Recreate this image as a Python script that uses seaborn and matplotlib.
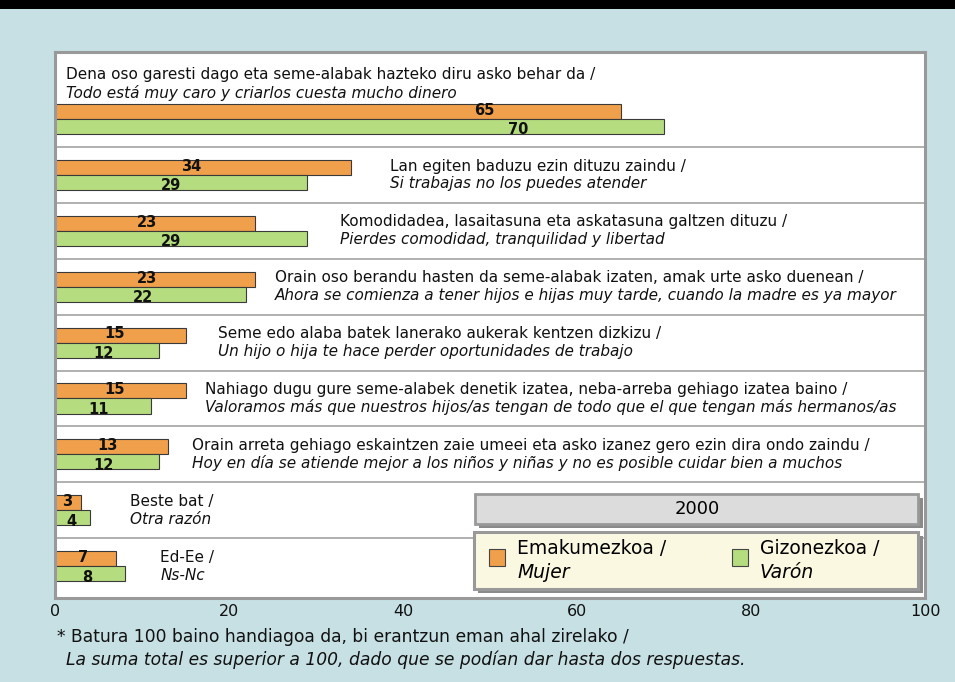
import pandas as pd
import seaborn as sns
import matplotlib.pyplot as plt
from matplotlib.patches import Rectangle

# data (percent, 2000)
reasons_eu = [
    'Dena oso garesti dago eta seme-alabak hazteko diru asko behar da /',
    'Lan egiten baduzu ezin dituzu zaindu /',
    'Komodidadea, lasaitasuna eta askatasuna galtzen dituzu /',
    'Orain oso berandu hasten da seme-alabak izaten, amak urte asko duenean /',
    'Seme edo alaba batek lanerako aukerak kentzen dizkizu /',
    'Nahiago dugu gure seme-alabek denetik izatea, neba-arreba gehiago izatea baino /',
    'Orain arreta gehiago eskaintzen zaie umeei eta asko izanez gero ezin dira ondo zaindu /',
    'Beste bat /',
    'Ed-Ee /',
]
reasons_es = [
    'Todo está muy caro y criarlos cuesta mucho dinero',
    'Si trabajas no los puedes atender',
    'Pierdes comodidad, tranquilidad y libertad',
    'Ahora se comienza a tener hijos e hijas muy tarde, cuando la madre es ya mayor',
    'Un hijo o hija te hace perder oportunidades de trabajo',
    'Valoramos más que nuestros hijos/as tengan de todo que el que tengan más hermanos/as',
    'Hoy en día se atiende mejor a los niños y niñas y no es posible cuidar bien a muchos',
    'Otra razón',
    'Ns-Nc',
]
women = [65, 34, 23, 23, 15, 15, 13, 3, 7]
men = [70, 29, 29, 22, 12, 11, 12, 4, 8]
sexes = ['Emakumezkoa / Mujer', 'Gizonezkoa / Varón']

# layout: where the reason text starts (x in data units)
label_x = [1.3, 38.5, 32.8, 25.3, 18.7, 17.2, 15.7, 8.6, 12.1]

orange = '#f0a04b'
green = '#b5dc7e'
bg = '#c6e0e4'

df = pd.DataFrame({
    'reason': reasons_eu * 2,
    'sex': [sexes[0]] * len(women) + [sexes[1]] * len(men),
    'value': women + men,
})

W, H = 955, 682
fig = plt.figure(figsize=(W / 100, H / 100), dpi=100, facecolor=bg)
ax = fig.add_axes([55 / W, 1 - 598 / H, 870 / W, 546 / H])

sns.barplot(data=df, x='value', y='reason', hue='sex', order=reasons_eu,
            hue_order=sexes, palette=[orange, green], saturation=1, width=0.54,
            edgecolor='#3a3a3a', linewidth=0.8, legend=False, orient='h', ax=ax)

ax.set_xlim(0, 100)
ax.set_ylim(8.57, -1.2)
ax.set_yticks([])
ax.set_xlabel('')
ax.set_ylabel('')
ax.set_xticks([0, 20, 40, 60, 80, 100])
ax.set_xticklabels(['0', '20', '40', '60', '80', '100'], fontsize=11.5, color='#111111')
ax.tick_params(axis='x', length=0, pad=4)
for s in ax.spines.values():
    s.set_color('#999999')
    s.set_linewidth(2.2)

for i in range(len(reasons_eu) - 1):
    ax.axhline(i + 0.5, color='#b0b0b0', lw=1.4, zorder=0)

# value labels, taken from the drawn bars
for k, cont in enumerate(ax.containers):
    for i, p in enumerate(cont.patches):
        v = p.get_width()
        frac = 0.76 if i == 0 else 0.46
        yc = p.get_y() + p.get_height() / 2 + (-0.02 if k == 0 else 0.06)
        ax.text(v * frac, yc, f'{v:.0f}', ha='center', va='center',
                fontsize=10.5, fontweight='bold', color='#111111')

# reason texts
for i, (eu, es) in enumerate(zip(reasons_eu, reasons_es)):
    if i == 0:
        y1, y2 = i - 0.79, i - 0.47
    else:
        y1, y2 = i - 0.16, i + 0.16
    ax.text(label_x[i], y1, eu, ha='left', va='center', fontsize=11, color='#111111')
    ax.text(label_x[i], y2, es, ha='left', va='center', fontsize=11,
            style='italic', color='#111111')


def box(x0, y0, x1, y1, **kw):
    r = Rectangle((x0 / W, 1 - y1 / H), (x1 - x0) / W, (y1 - y0) / H,
                  transform=fig.transFigure, **kw)
    fig.add_artist(r)


# black band on top
box(0, 0, W, 9, facecolor='black', edgecolor='none')

# legend: title box and key box with shadows
box(479, 498, 923, 528, facecolor='#8a8a8a', edgecolor='none', zorder=3)
box(475, 494, 918, 524, facecolor='#dcdcdc', edgecolor='#999999', lw=2, zorder=4)
box(478, 536, 923, 593, facecolor='#8a8a8a', edgecolor='none', zorder=3)
box(474, 532, 918, 589, facecolor='#faf8e1', edgecolor='#999999', lw=2.2, zorder=4)
fig.text(697 / W, 1 - 509 / H, '2000', ha='center', va='center', fontsize=13, zorder=5)

for cx, col, name in [(489, orange, sexes[0]), (732, green, sexes[1])]:
    box(cx, 549, cx + 16, 566, facecolor=col, edgecolor='#444444', lw=0.8, zorder=5)
    eu, es = name.split(' / ')
    fig.text((cx + 28) / W, 1 - 549 / H, eu + ' /', ha='left', va='center',
             fontsize=13.5, zorder=5)
    fig.text((cx + 28) / W, 1 - 572 / H, es, ha='left', va='center',
             fontsize=13.5, style='italic', zorder=5)

# footnote
fig.text(57 / W, 1 - 637 / H,
         '* Batura 100 baino handiagoa da, bi erantzun eman ahal zirelako /',
         ha='left', va='center', fontsize=12.3, color='#111111')
fig.text(66 / W, 1 - 660 / H,
         'La suma total es superior a 100, dado que se podían dar hasta dos respuestas.',
         ha='left', va='center', fontsize=12.3, style='italic', color='#111111')

fig.savefig('out.png', dpi=100, facecolor=bg)
